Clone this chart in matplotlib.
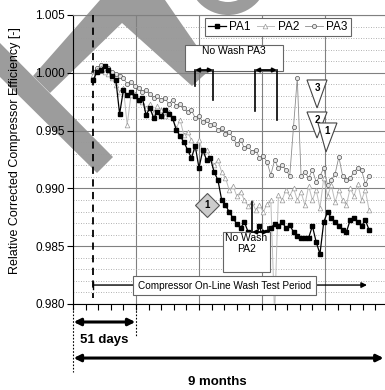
import matplotlib
matplotlib.use("Agg")
import matplotlib.pyplot as plt
from matplotlib.patches import Polygon, Rectangle, Wedge
from matplotlib.transforms import IdentityTransform
from matplotlib.ticker import MultipleLocator, FormatStrFormatter, NullFormatter

plt.rcParams['font.family'] = ['Liberation Sans', 'DejaVu Sans']

# days since start of the record
days = [16, 19, 22, 25, 28, 31, 34, 37, 40, 43,
        46, 49, 52, 55, 58, 61, 64, 67, 70, 73,
        76, 79, 82, 85, 88, 91, 94, 97, 100, 103,
        106, 109, 112, 115, 118, 121, 124, 127, 130, 133,
        136, 139, 142, 145, 148, 151, 154, 157, 160, 163,
        166, 169, 172, 175, 178, 181, 184, 187, 190, 193,
        196, 199, 202, 205, 208, 211, 214, 217, 220, 223,
        226, 229, 232, 235]

pa1 = [0.99938, 1.00007, 1.00024, 1.00059, 1.00024, 0.99972, 0.99938, 0.99644, 0.99851, 0.99808,
       0.99834, 0.99799, 0.99765, 0.99782, 0.99635, 0.99696, 0.99609, 0.99661, 0.99626, 0.99678,
       0.99644, 0.99609, 0.99505, 0.99453, 0.99401, 0.99332, 0.99263, 0.99367, 0.99176, 0.99332,
       0.99246, 0.99263, 0.99142, 0.99073, 0.98900, 0.98856, 0.98796, 0.98744, 0.98692, 0.98657,
       0.98709, 0.98623, 0.98588, 0.98571, 0.98675, 0.98554, 0.98623, 0.98657, 0.98692, 0.98675,
       0.98709, 0.98657, 0.98683, 0.98623, 0.98588, 0.98571, 0.98571, 0.98571, 0.98675, 0.98536,
       0.98433, 0.98709, 0.98796, 0.98744, 0.98709, 0.98675, 0.98640, 0.98623, 0.98727, 0.98744,
       0.98709, 0.98675, 0.98727, 0.98640]

pa2 = [0.99981, 1.00024, 1.00042, 1.00007, 0.99990, 0.99955, 0.99894, 0.99834, 0.99869, 0.99548,
       0.99808, 0.99817, 0.99765, 0.99747, 0.99696, 0.99730, 0.99661, 0.99713, 0.99678, 0.99626,
       0.99661, 0.99609, 0.99523, 0.99592, 0.99462, 0.99488, 0.99419, 0.99349, 0.99419, 0.99315,
       0.99332, 0.99263, 0.99202, 0.99246, 0.99142, 0.99090, 0.98986, 0.99021, 0.98934, 0.98969,
       0.98900, 0.98848, 0.98882, 0.98813, 0.98856, 0.98796, 0.98865, 0.98900, 0.97900, 0.98943,
       0.98900, 0.98986, 0.98934, 0.99003, 0.98900, 0.98969, 0.98856, 0.99021, 0.98900, 0.98986,
       0.98830, 0.99090, 0.98934, 0.99029, 0.98882, 0.98986, 0.98900, 0.98856, 0.99003, 0.98934,
       0.99038, 0.98900, 0.98986, 0.98813]

pa3 = [1.00007, 1.00042, 1.00067, 1.00059, 1.00042, 1.00007, 0.99990, 0.99972, 0.99955, 0.99903,
       0.99920, 0.99886, 0.99869, 0.99834, 0.99851, 0.99817, 0.99782, 0.99799, 0.99765, 0.99782,
       0.99730, 0.99765, 0.99713, 0.99730, 0.99696, 0.99661, 0.99678, 0.99609, 0.99626, 0.99574,
       0.99592, 0.99548, 0.99557, 0.99505, 0.99523, 0.99471, 0.99488, 0.99436, 0.99384, 0.99419,
       0.99349, 0.99367, 0.99315, 0.99332, 0.99263, 0.99280, 0.99228, 0.99116, 0.99246, 0.99176,
       0.99202, 0.99159, 0.99107, 0.99531, 0.99955, 0.99107, 0.99142, 0.99090, 0.99159, 0.99055,
       0.99107, 0.99176, 0.99029, 0.99073, 0.99124, 0.99272, 0.99107, 0.99073, 0.99090, 0.99142,
       0.99176, 0.99159, 0.99038, 0.99107]

W, H = 385, 390
fig = plt.figure(figsize=(W / 100, H / 100), dpi=100)
ax = fig.add_axes([73 / W, 1 - 304 / H, 312 / W, 289 / H])
ax.set_facecolor('none')

# grey watermark behind the chart (pixel coords, y from top)
wm = '#9c9c9c'
def pix(pts):
    return [(x, H - y) for x, y in pts]
for shape in ([(0, 43), (113, 157), (97, 173), (0, 77)],
              [(100, 0), (165, 0), (212, 68), (192, 86), (122, 23), (50, 93), (33, 76)]):
    fig.patches.append(Polygon(pix(shape), closed=True, fc=wm, ec='none',
                               transform=IdentityTransform(), zorder=-5))
fig.patches.append(Wedge((228, H + 25), 40, 180, 360, width=13, fc=wm, ec='none',
                         transform=IdentityTransform(), zorder=-5))

ax.set_xlim(0, 312 / 1.26)
ax.set_ylim(0.980, 1.005)
ax.xaxis.set_major_locator(MultipleLocator(50))
ax.xaxis.set_minor_locator(MultipleLocator(10))
ax.xaxis.set_major_formatter(NullFormatter())
ax.yaxis.set_major_locator(MultipleLocator(0.005))
ax.yaxis.set_minor_locator(MultipleLocator(0.001))
ax.yaxis.set_major_formatter(FormatStrFormatter('%.3f'))
ax.tick_params(axis='y', which='major', labelsize=8.5, length=4, width=0.8, pad=2)
ax.tick_params(axis='y', which='minor', length=0)
ax.tick_params(axis='x', which='both', length=4, width=0.8, direction='out')
ax.grid(which='major', axis='both', color='#808080', lw=0.8, ls='-')
ax.grid(which='minor', axis='y', color='#999999', lw=0.6, ls=(0, (1, 2)))
ax.set_axisbelow(True)
for s in ['left', 'bottom']:
    ax.spines[s].set_color('black')
    ax.spines[s].set_linewidth(0.8)
ax.spines['top'].set_color('#808080')
ax.spines['right'].set_visible(False)

l3, = ax.plot(days, pa3, color='#8c8c8c', lw=0.6, marker='o', ms=3, mfc='#e6e6e6',
              mec='#505050', mew=0.5, label='PA3', zorder=3)
l2, = ax.plot(days, pa2, color='#bdbdbd', lw=0.7, marker='^', ms=3.4, mfc='white',
              mec='#999999', mew=0.5, label='PA2', zorder=4)
l1, = ax.plot(days, pa1, color='black', lw=0.9, marker='s', ms=2.4, label='PA1', zorder=5)

leg = ax.legend(handles=[l1, l2, l3], loc='upper left', bbox_to_anchor=(0.423, 0.99),
                ncol=3, fontsize=8.5, frameon=True, fancybox=False, edgecolor='#666666',
                framealpha=1, handlelength=1.5, handletextpad=0.3, columnspacing=0.5,
                borderpad=0.25, borderaxespad=0)
leg.get_frame().set_linewidth(0.8)
leg.set_zorder(10)

# start of the test period
ax.plot([16, 16], [1.005, 0.9805], color='black', lw=1.3, ls=(0, (4, 3)), zorder=6)

# on-line wash test period
yT = 0.98164
ax.plot([16, 16], [yT - 0.0003, yT + 0.0003], color='black', lw=1, zorder=6)
ax.annotate('', xy=(233.3, yT), xytext=(16, yT),
            arrowprops=dict(arrowstyle='-|>', color='black', lw=1, mutation_scale=8,
                            shrinkA=0, shrinkB=0), zorder=6)
ax.text(120.2, 0.98156, 'Compressor On-Line Wash Test Period', fontsize=7.2, ha='center',
        va='center', zorder=8,
        bbox=dict(boxstyle='square,pad=0.45', fc='white', ec='#666666', lw=0.8))

arrow2 = dict(arrowstyle='<|-|>', color='black', lw=1.3, mutation_scale=6, shrinkA=0, shrinkB=0)

# no wash PA3
ax.add_patch(Rectangle((88.9, 1.00016), 77.8, 0.00224, fc='white', ec='#666666', lw=0.8, zorder=7))
ax.text(127.8, 1.00189, 'No Wash PA3', fontsize=7.5, ha='center', va='center', zorder=8)
for x0, x1, y0, y1 in [(96.8, 111.1, 0.99886, 0.99765), (144.4, 161.9, 0.99670, 0.99592)]:
    ax.annotate('', xy=(x0, 1.00024), xytext=(x1, 1.00024), arrowprops=arrow2, zorder=9)
    ax.plot([x0, x0], [1.00024, y0], color='black', lw=1.2, zorder=9)
    ax.plot([x1, x1], [1.00024, y1], color='black', lw=1.2, zorder=9)

# no wash PA2
ax.add_patch(Rectangle((119.0, 0.98277), 37.3, 0.00346, fc='white', ec='#666666', lw=0.8, zorder=7))
ax.text(137.7, 0.98612, 'No Wash\nPA2', fontsize=7.5, ha='center', va='top',
        linespacing=1.1, zorder=8)
ax.annotate('', xy=(142.1, 0.98623), xytext=(154.8, 0.98623), arrowprops=arrow2, zorder=9)
ax.plot([142.1, 142.1], [0.98882, 0.98623], color='black', lw=1.2, zorder=9)
ax.plot([154.8, 154.8], [0.98666, 0.98623], color='black', lw=1.2, zorder=9)

# numbered markers
tris = [('3', (185.7, 201.6, 193.7), (0.99938, 0.99696), (193.7, 0.99866)),
        ('2', (185.7, 201.6, 193.7), (0.99661, 0.99436), (193.7, 0.99590)),
        ('1', (194.4, 209.5, 200.8), (0.99566, 0.99315), (201.6, 0.99494))]
for k, (name, xs, ys, pos) in enumerate(tris):
    ax.add_patch(Polygon([(xs[0], ys[0]), (xs[1], ys[0]), (xs[2], ys[1])], closed=True,
                         fc='white', ec='#444444', lw=0.8, zorder=11 + k))
    ax.text(pos[0], pos[1], name, fontsize=7, fontweight='bold', ha='center', va='center',
            zorder=11 + k)
ax.plot([106.3], [0.98856], marker='D', ms=12, mfc='#cccccc', mec='#555555', mew=0.8, zorder=9)
ax.text(106.3, 0.98856, '1', fontsize=7, fontweight='bold', ha='center', va='center', zorder=10)

# time spans below the axis
xt = ax.get_xaxis_transform()
ax.plot([0, 0], [0, -0.235], transform=xt, clip_on=False, color='black', lw=0.8, ls=(0, (1.5, 1.5)))
ax.plot([50, 50], [0, -0.111], transform=xt, clip_on=False, color='black', lw=0.8, ls=(0, (1.5, 1.5)))
big = dict(arrowstyle='<|-|>', color='black', lw=2.2, mutation_scale=10, shrinkA=0, shrinkB=0)
ax.annotate('', xy=(0.5, -0.0623), xytext=(49.5, -0.0623), xycoords=xt, textcoords=xt,
            arrowprops=big, annotation_clip=False)
ax.text(25, -0.1246, '51 days', transform=xt, fontsize=9.5, fontweight='bold',
        ha='center', va='center')
ax.annotate('', xy=(0.5, -0.187), xytext=(246.5, -0.187), xycoords=xt, textcoords=xt,
            arrowprops=big, annotation_clip=False)
ax.text(114.3, -0.2716, '9 months', transform=xt, fontsize=9.5, fontweight='bold',
        ha='center', va='center')

fig.text(15 / W, 1 - 151 / H, 'Relative Corrected Compressor Efficiency [-]', fontsize=9,
         rotation=90, ha='center', va='center')

fig.savefig('out.png', dpi=100)
